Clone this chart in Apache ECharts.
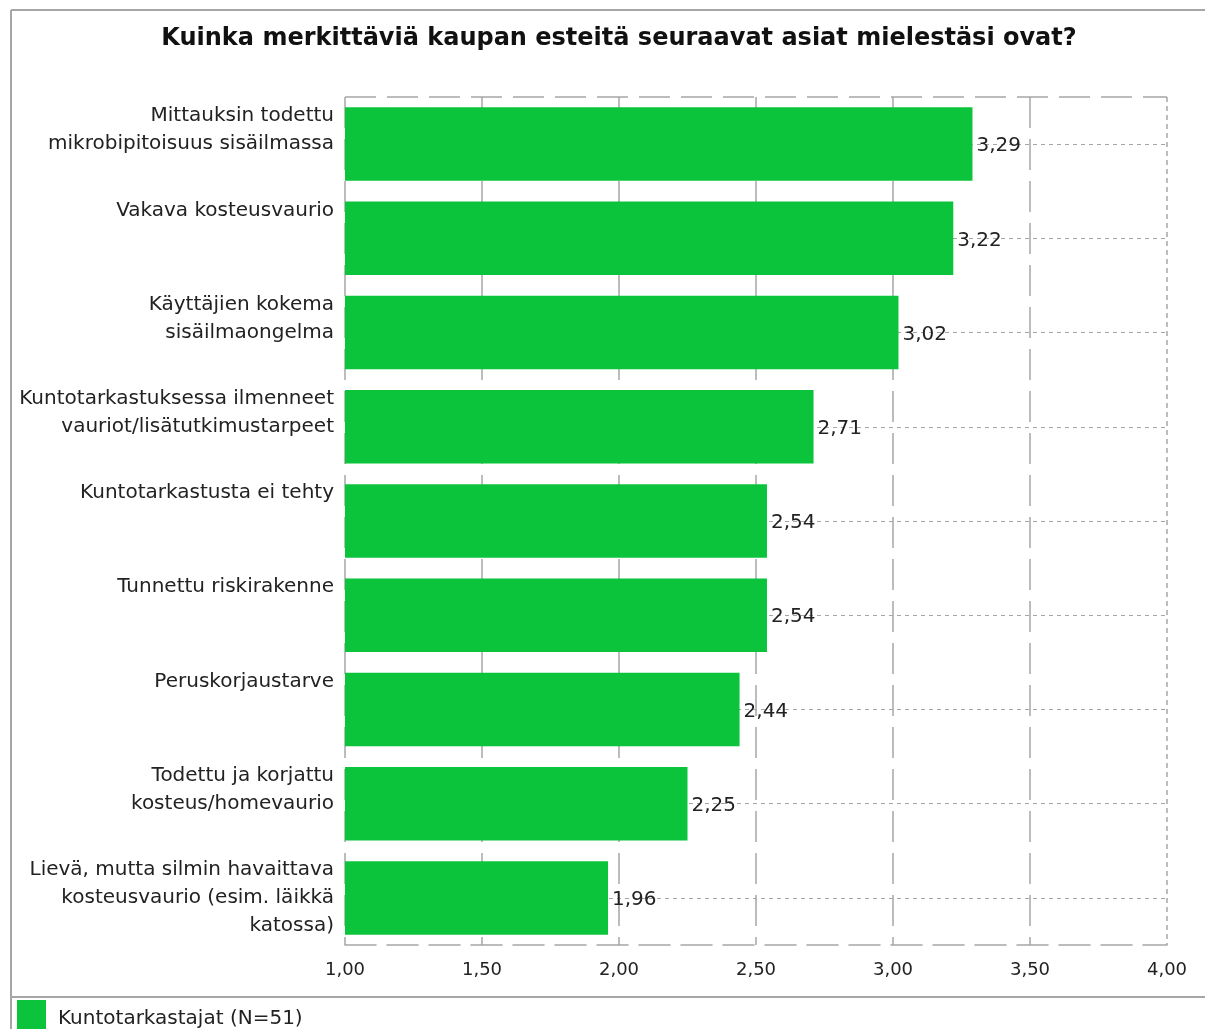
<!DOCTYPE html>
<html>
<head>
<meta charset="utf-8">
<script src="https://cdn.jsdelivr.net/npm/echarts@6/dist/echarts.min.js"></script>
<style>
  html, body { margin: 0; padding: 0; background: #fff; }
  #chart { width: 1205px; height: 1029px; }
</style>
</head>
<body>
<div id="chart"></div>
<script>
const categories = [
  "Mittauksin todettu\nmikrobipitoisuus sisäilmassa",
  "Vakava kosteusvaurio",
  "Käyttäjien kokema\nsisäilmaongelma",
  "Kuntotarkastuksessa ilmenneet\nvauriot/lisätutkimustarpeet",
  "Kuntotarkastusta ei tehty",
  "Tunnettu riskirakenne",
  "Peruskorjaustarve",
  "Todettu ja korjattu\nkosteus/homevaurio",
  "Lievä, mutta silmin havaittava\nkosteusvaurio (esim. läikkä\nkatossa)"
];
const values = [3.29, 3.22, 3.02, 2.71, 2.54, 2.54, 2.44, 2.25, 1.96];
const seriesName = "Kuntotarkastajat (N=51)";
const titleText = "Kuinka merkittäviä kaupan esteitä seuraavat asiat mielestäsi ovat?";

const FONT = "DejaVu Sans";
const GRAY = "#a6a6a6";
const GREEN = "#0bc43c";

// pad every label to three lines so text starts at the top of its band
const padLabel = (s) => {
  const lines = s.split("\n");
  while (lines.length < 3) lines.push(" ");
  return lines.join("\n");
};
const fmt = (v) => v.toFixed(2).replace(".", ",");

const chart = echarts.init(document.getElementById("chart"));
const option = {
  animation: false,
  title: {
    text: titleText,
    left: 614,
    top: 22,
    textAlign: "center",
    textStyle: { fontFamily: FONT, fontSize: 24, fontWeight: "bold", color: "#111" }
  },
  legend: {
    left: 17,
    top: 1000,
    padding: 0,
    itemWidth: 29,
    itemHeight: 29,
    itemGap: 10,
    icon: "rect",
    formatter: (name) => "{t|" + name + "}",
    textStyle: {
      fontFamily: FONT,
      fontSize: 20,
      color: "#222",
      rich: { t: { fontFamily: FONT, fontSize: 20, color: "#222", padding: [8, 0, 0, 7] } }
    },
    data: [seriesName]
  },
  grid: { left: 345, right: 38, top: 97, bottom: 84, containLabel: false },
  xAxis: {
    type: "value",
    min: 1,
    max: 4,
    interval: 0.5,
    axisLine: { show: true, lineStyle: { color: GRAY, width: 1.5, type: [31, 11] } },
    axisTick: { show: false },
    axisLabel: {
      margin: 16,
      fontFamily: FONT,
      fontSize: 18,
      color: "#222",
      formatter: (v) => fmt(v)
    },
    splitLine: {
      show: true,
      showMaxLine: false,
      lineStyle: { color: GRAY, width: 1.5, type: [31, 11] }
    }
  },
  yAxis: [
    {
      type: "category",
      inverse: true,
      data: categories,
      axisLine: { show: false },
      axisTick: { show: false },
      axisLabel: {
        margin: 11,
        fontFamily: FONT,
        fontSize: 20,
        lineHeight: 28,
        color: "#222",
        align: "right",
        formatter: (v) => padLabel(v)
      },
      splitLine: {
        show: true,
        alignWithLabel: true,
        lineStyle: { color: GRAY, width: 1, type: [4, 4] }
      }
    }
  ],
  graphic: [
    { type: "line", shape: { x1: 11, y1: 10, x2: 1205, y2: 10 }, style: { stroke: GRAY, lineWidth: 2 }, silent: true },
    { type: "line", shape: { x1: 11, y1: 10, x2: 11, y2: 1029 }, style: { stroke: GRAY, lineWidth: 2 }, silent: true },
    { type: "line", shape: { x1: 11, y1: 997, x2: 1205, y2: 997 }, style: { stroke: GRAY, lineWidth: 2 }, silent: true },
    // top edge of plot (long dashes) and right edge (short dashes)
    { type: "line", shape: { x1: 345, y1: 97, x2: 1167, y2: 97 }, style: { stroke: GRAY, lineWidth: 1.5, lineDash: [31, 11] }, silent: true, z: -1 },
    { type: "line", shape: { x1: 1167, y1: 97, x2: 1167, y2: 945 }, style: { stroke: GRAY, lineWidth: 1.5, lineDash: [5, 4] }, silent: true, z: -1 }
  ],
  series: [
    {
      name: seriesName,
      type: "bar",
      data: values,
      barCategoryGap: "22%",
      itemStyle: { color: GREEN },
      label: {
        show: true,
        position: "right",
        distance: 4,
        offset: [0, 2],
        fontFamily: FONT,
        fontSize: 20,
        color: "#222",
        formatter: (p) => fmt(p.value)
      }
    }
  ]
};
chart.setOption(option);
</script>
</body>
</html>
